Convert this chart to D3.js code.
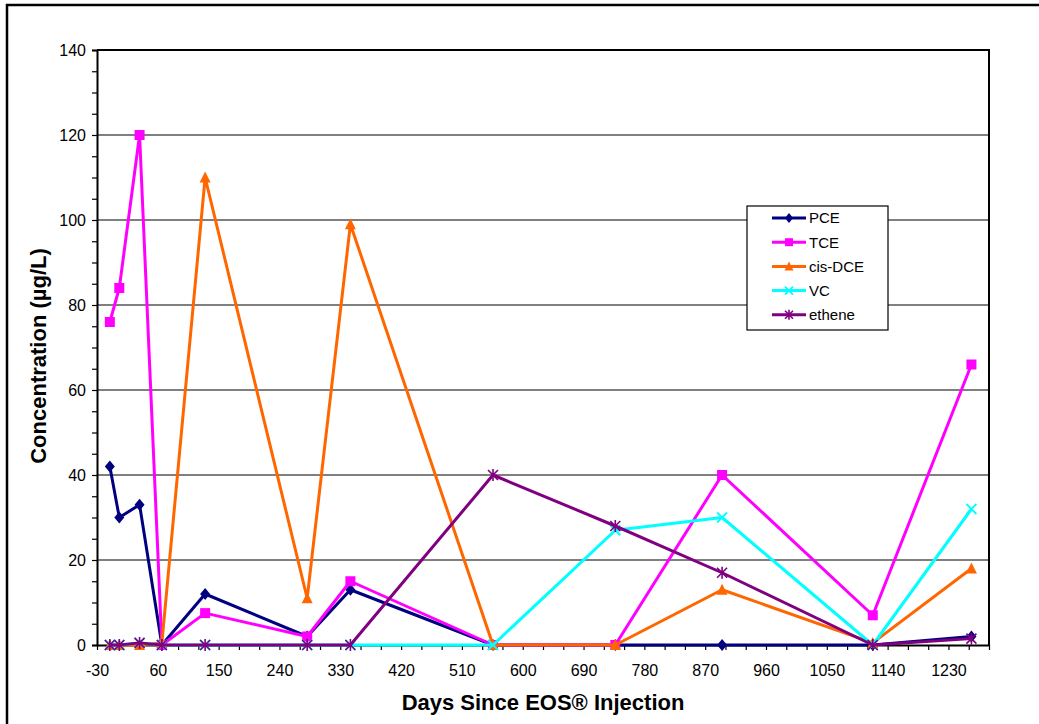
<!DOCTYPE html>
<html><head><meta charset="utf-8">
<script src="https://cdn.jsdelivr.net/npm/d3@7"></script>
<style>body{margin:0;background:#fff}svg{display:block;font-family:Arial,"Liberation Sans",sans-serif}</style>
</head><body>
<svg id="c" width="1039" height="724"></svg>
<script>
const days = [-11, 3, 33, 66, 130, 281, 345, 556, 737, 895, 1118, 1264];
const PCE = [42, 30, 33, 0, 12, 2, 13, 0, 0, 0, 0, 2];
const TCE = [76, 84, 120, 0, 7.5, 2, 15, 0, 0, 40, 7, 66];
const cisDCE = [0, 0, 0, 0.5, 110, 11, 99, 0, 0, 13, 0.5, 18];
const VC = [0, 0, 0.5, 0, 0, 0, 0, 0, 27, 30, 0, 32];
const ethene = [0, 0, 0.5, 0, 0, 0, 0, 40, 28, 17, 0, 1.5];
const xTickLabels = [-30, 60, 150, 240, 330, 420, 510, 600, 690, 780, 870, 960, 1050, 1140, 1230];
const yTickLabels = [0, 20, 40, 60, 80, 100, 120, 140];
const seriesNames = ["PCE", "TCE", "cis-DCE", "VC", "ethene"];
const seriesValues = [PCE, TCE, cisDCE, VC, ethene];
const seriesColors = ["#000080", "#FF00FF", "#FF6600", "#00FFFF", "#800080"];
const seriesMarkers = ["diamond", "square", "triangle", "x", "star"];

const svg = d3.select("#c");
const L = 97, R = 989, T = 50, B = 645;
const x = d3.scaleLinear().domain([-30, 1290]).range([L, R]);
const y = d3.scaleLinear().domain([0, 140]).range([B, T]);

// outer frame
svg.append("rect").attr("x", 7).attr("y", 5).attr("width", 1040).attr("height", 730)
  .attr("fill", "none").attr("stroke", "#000").attr("stroke-width", 2.5);

// gridlines
svg.append("g").selectAll("line").data(yTickLabels.filter(v => v > 0 && v < 140)).join("line")
  .attr("x1", L).attr("x2", R).attr("y1", d => y(d)).attr("y2", d => y(d))
  .attr("stroke", "#000").attr("stroke-width", 1);

// plot border top/right
svg.append("path").attr("d", `M${L},${T}H${R}V${B}`).attr("fill", "none").attr("stroke", "#000").attr("stroke-width", 2);

// y axis
const yAxis = d3.axisLeft(y).tickValues(d3.range(0, 141, 5)).tickSize(5)
  .tickFormat(d => yTickLabels.includes(d) ? d : "");
const gy = svg.append("g").attr("transform", `translate(${L},0)`).call(yAxis);
gy.select(".domain").attr("stroke-width", 2);
gy.selectAll(".tick line").attr("stroke-width", 1.2);
gy.selectAll("text").attr("font-size", 16).attr("font-family", "Arial, Liberation Sans").attr("x", -11).attr("dy", "0.35em");

// x axis
const xAxis = d3.axisBottom(x).tickValues(d3.range(-30, 1291, 30)).tickSize(5).tickSizeOuter(0)
  .tickFormat(d => xTickLabels.includes(d) ? d : "");
const gx = svg.append("g").attr("transform", `translate(0,${B})`).call(xAxis);
gx.select(".domain").attr("stroke-width", 2);
gx.selectAll(".tick line").attr("stroke-width", 1.2);
gx.selectAll("text").attr("font-size", 16).attr("font-family", "Arial, Liberation Sans").attr("y", 20);

// titles
svg.append("text").attr("x", 543).attr("y", 710).attr("text-anchor", "middle")
  .attr("font-size", 22).attr("font-weight", "bold").text("Days Since EOS® Injection");
svg.append("text").attr("transform", "translate(46,356) rotate(-90)").attr("text-anchor", "middle")
  .attr("font-size", 22).attr("font-weight", "bold").text("Concentration (µg/L)");

function marker(g, type, color, cx, cy, s) {
  const h = s / 2;
  if (type === "diamond") g.append("path").attr("d", `M${cx},${cy - h - 1}L${cx + h},${cy}L${cx},${cy + h + 1}L${cx - h},${cy}Z`).attr("fill", color);
  else if (type === "square") g.append("rect").attr("x", cx - h).attr("y", cy - h).attr("width", s).attr("height", s).attr("fill", color);
  else if (type === "triangle") g.append("path").attr("d", `M${cx},${cy - h - 1}L${cx + h + 0.5},${cy + h}L${cx - h - 0.5},${cy + h}Z`).attr("fill", color);
  else if (type === "x") g.append("path").attr("d", `M${cx - h},${cy - h}L${cx + h},${cy + h}M${cx - h},${cy + h}L${cx + h},${cy - h}`).attr("stroke", color).attr("stroke-width", 1.8);
  else if (type === "star") g.append("path").attr("d", `M${cx - h},${cy - h}L${cx + h},${cy + h}M${cx - h},${cy + h}L${cx + h},${cy - h}M${cx},${cy - h - 1}L${cx},${cy + h + 1}`).attr("stroke", color).attr("stroke-width", 1.6);
}

const line = d3.line().x(d => x(d[0])).y(d => y(d[1]));
seriesValues.forEach((vals, i) => {
  const g = svg.append("g");
  const pts = days.map((d, j) => [d, vals[j]]);
  g.append("path").attr("d", line(pts)).attr("fill", "none").attr("stroke", seriesColors[i]).attr("stroke-width", 3).attr("stroke-linejoin", "round");
  pts.forEach(p => marker(g, seriesMarkers[i], seriesColors[i], x(p[0]), y(p[1]), 10));
});

// legend
const lg = svg.append("g");
lg.append("rect").attr("x", 747).attr("y", 206).attr("width", 141).attr("height", 124).attr("fill", "#fff").attr("stroke", "#000").attr("stroke-width", 1.2);
seriesNames.forEach((n, i) => {
  const ly = 218 + i * 24.2;
  lg.append("line").attr("x1", 772).attr("x2", 806).attr("y1", ly).attr("y2", ly).attr("stroke", seriesColors[i]).attr("stroke-width", 3);
  marker(lg, seriesMarkers[i], seriesColors[i], 789, ly, 8);
  lg.append("text").attr("x", 809).attr("y", ly).attr("dy", "0.36em").attr("font-size", 15).text(n);
});
</script>
</body></html>
